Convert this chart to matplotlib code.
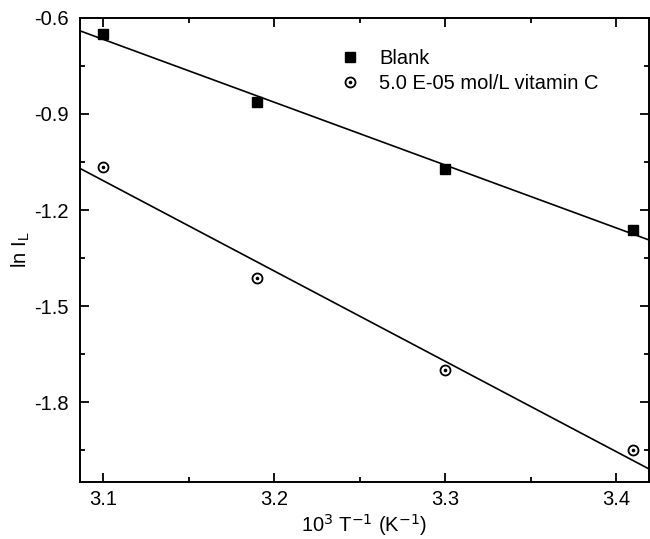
import numpy as np
import matplotlib
matplotlib.use("Agg")
import matplotlib.pyplot as plt
from matplotlib.ticker import MultipleLocator

plt.rcParams['font.family'] = ['Liberation Sans', 'DejaVu Sans']

# data
inv_T = [3.10, 3.19, 3.30, 3.41]
ln_IL_blank = [-0.650, -0.861, -1.072, -1.262]
ln_IL_vitc = [-1.064, -1.411, -1.699, -1.951]
labels = ["Blank", "5.0 E-05 mol/L vitamin C"]

fs = 14.5

fig = plt.figure(figsize=(6.5, 5.39), dpi=100)
ax = fig.add_axes([0.123, 0.106, 0.8755, 0.8607])

xlim = (3.0864, 3.4193)
ylim = (-2.049, -0.6)
xx = np.array(xlim)

# fitted lines
for y in (ln_IL_blank, ln_IL_vitc):
    k, b = np.polyfit(inv_T, y, 1)
    ax.plot(xx, k * xx + b, color='black', lw=1.2, zorder=2)

h1, = ax.plot(inv_T, ln_IL_blank, 's', color='black', ms=6.8, zorder=3,
              linestyle='none')
h2, = ax.plot(inv_T, ln_IL_vitc, 'o', mfc='white', mec='black', mew=1.3,
              ms=7.2, zorder=3, linestyle='none')
h3, = ax.plot(inv_T, ln_IL_vitc, 'o', color='black', ms=1.6, zorder=4,
              linestyle='none')

ax.set_xlim(*xlim)
ax.set_ylim(*ylim)

ax.xaxis.set_major_locator(MultipleLocator(0.1))
ax.xaxis.set_minor_locator(MultipleLocator(0.05))
ax.yaxis.set_major_locator(MultipleLocator(0.3))
ax.yaxis.set_minor_locator(MultipleLocator(0.15))
ax.xaxis.set_major_formatter(plt.FuncFormatter(lambda v, p: f"{v:.1f}"))
ax.yaxis.set_major_formatter(plt.FuncFormatter(lambda v, p: f"{v:.1f}"))

ax.tick_params(which='both', direction='in', top=True, right=True,
               width=1.3, labelsize=fs)
ax.tick_params(which='major', length=6.5)
ax.tick_params(which='minor', length=3.5)
ax.tick_params(axis='x', pad=6)
ax.tick_params(axis='y', pad=8)
for s in ax.spines.values():
    s.set_linewidth(1.4)

ax.set_xlabel(r"10$^{3}$ T$^{-1}$ (K$^{-1}$)", fontsize=fs, labelpad=2)
ax.set_ylabel(r"ln I$_{\mathregular{L}}$", fontsize=fs)
ax.yaxis.set_label_coords(-0.085, 0.5)

ax.legend([h1, (h2, h3)], labels, loc='upper left',
          bbox_to_anchor=(0.443, 0.951), frameon=False, fontsize=fs,
          handlelength=1.0, handletextpad=0.95, labelspacing=0.3,
          borderaxespad=0)

fig.savefig("out.png", dpi=100)
